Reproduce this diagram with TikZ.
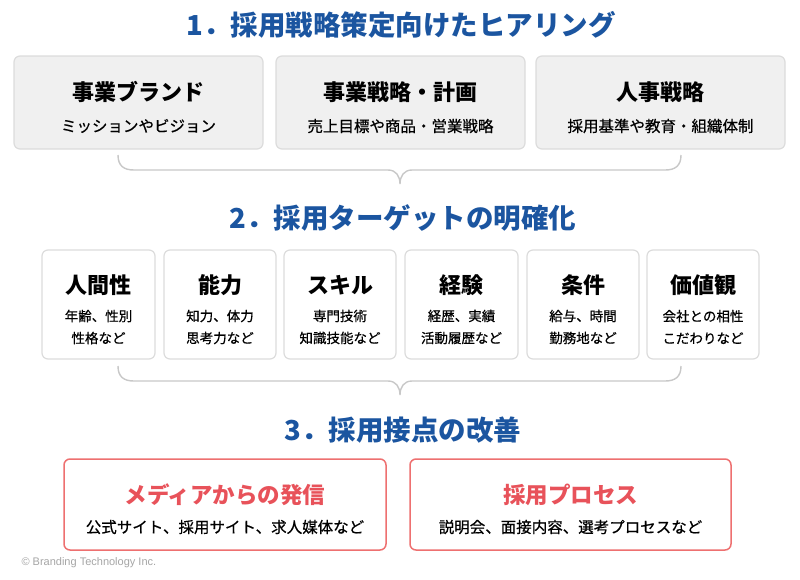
\documentclass[tikz,border=0pt]{standalone}
\usepackage{fontspec}
\setmainfont{Noto Sans CJK JP}
\newfontfamily\jpmed{Noto Sans CJK JP}[FakeBold=0.6]
\newfontfamily\latinsans{Liberation Sans}
\definecolor{tblue}{HTML}{1B55A0}
\definecolor{tred}{HTML}{E8525A}
\definecolor{rborder}{HTML}{EE7070}
\definecolor{gfill}{HTML}{F0F0F0}
\definecolor{gborder}{HTML}{DCDCDC}
\definecolor{brace}{HTML}{C8C8C8}
\begin{document}
\begin{tikzpicture}[x=1pt,y=-1pt,
  heading/.style={font=\fontsize{27.5}{30}\selectfont\bfseries, text=tblue},
  graybox/.style={draw=gborder, fill=gfill, line width=1.2pt, rounded corners=6pt},
  whitebox/.style={draw=gborder, fill=white, line width=1.2pt, rounded corners=6pt},
  redbox/.style={draw=rborder, fill=white, line width=1.5pt, rounded corners=6pt},
  bigt/.style={font=\fontsize{22}{24}\selectfont\bfseries, text=black},
  midt/.style={font=\fontsize{22}{26}\selectfont\bfseries, text=black},
  subt/.style={font=\jpmed\fontsize{15.5}{18}\selectfont, text=black},
  smallt/.style={font=\jpmed\fontsize{13.5}{22}\selectfont, text=black, align=center},
  redt/.style={font=\fontsize{22.5}{24}\selectfont\bfseries, text=tred},
  bracepath/.style={draw=brace, line width=1.4pt}
]
\useasboundingbox (0,0) rectangle (800,579);
\fill[white] (0,0) rectangle (800,579);

% Headings
\node[heading] (h1) at (401,25) {1．採用戦略策定向けたヒアリング};
\node[heading] (h2) at (403,218) {2．採用ターゲットの明確化};
\node[heading] (h3) at (403,430) {3．採用接点の改善};

% Row 1
\path[graybox] (14,56) rectangle (263,149);
\path[graybox] (276,56) rectangle (525,149);
\path[graybox] (536,56) rectangle (785,149);
\node[bigt] (a1) at (138.5,92) {事業ブランド};
\node[subt] (a1s) at (138.5,126) {ミッションやビジョン};
\node[bigt] (a2) at (400.5,92) {事業戦略・計画};
\node[subt] (a2s) at (400.5,126) {売上目標や商品・営業戦略};
\node[bigt] (a3) at (660.5,92) {人事戦略};
\node[subt] (a3s) at (660.5,126) {採用基準や教育・組織体制};

% Brace 1
\coordinate (b1l) at (118,155);
\coordinate (b1r) at (681,155);
\coordinate (b1t) at (400,184);
\draw[bracepath] (b1l) .. controls (118,166) and (124,170) .. (134,170) -- (388,170)
  .. controls (396,170) and (400,176) .. (b1t)
  .. controls (400,176) and (404,170) .. (412,170) -- (665,170)
  .. controls (675,170) and (681,166) .. (b1r);

% Row 2
\foreach \xa/\xb/\n/\t/\s in {
  42/155/c1/人間性/{年齢、性別\\性格など},
  164/276/c2/能力/{知力、体力\\思考力など},
  284/396/c3/スキル/{専門技術\\知識技能など},
  405/518/c4/経験/{経歴、実績\\活動履歴など},
  527/639/c5/条件/{給与、時間\\勤務地など},
  647/759/c6/価値観/{会社との相性\\こだわりなど}} {
  \path[whitebox] (\xa,250) rectangle (\xb,359);
  \node[midt] (\n) at ({(\xa+\xb)/2},285) {\t};
  \node[smallt] (\n s) at ({(\xa+\xb)/2},327) {\s};
}

% Brace 2
\coordinate (b2l) at (118,366);
\coordinate (b2r) at (681,366);
\coordinate (b2t) at (400,395);
\draw[bracepath] (b2l) .. controls (118,377) and (124,381) .. (134,381) -- (388,381)
  .. controls (396,381) and (400,387) .. (b2t)
  .. controls (400,387) and (404,381) .. (412,381) -- (665,381)
  .. controls (675,381) and (681,377) .. (b2r);

% Row 3
\path[redbox] (64,459) rectangle (386,550);
\path[redbox] (410,459) rectangle (731,550);
\node[redt] (d1) at (225,495) {メディアからの発信};
\node[subt] (d1s) at (225,527) {公式サイト、採用サイト、求人媒体など};
\node[redt] (d2) at (570.5,495) {採用プロセス};
\node[subt] (d2s) at (570.5,527) {説明会、面接内容、選考プロセスなど};

% Copyright
\node[anchor=west, font=\latinsans\fontsize{11}{12}\selectfont, text=black!35] (cp) at (18,563) {© Branding Technology Inc.};
\end{tikzpicture}
\end{document}
